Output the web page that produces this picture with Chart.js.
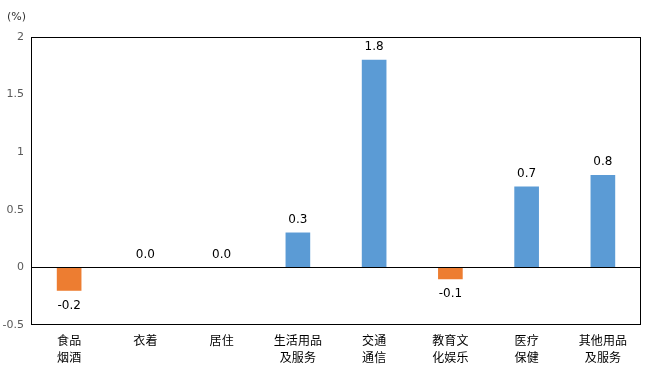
<!DOCTYPE html>
<html>
<head>
<meta charset="utf-8">
<script src="https://cdn.jsdelivr.net/npm/chart.js@4"></script>
<style>
  html, body { margin: 0; padding: 0; background: #fff; }
  #wrap { width: 653px; height: 371px; }
</style>
</head>
<body>
<div id="wrap"><canvas id="chart" width="653" height="371"></canvas></div>
<script>
const categories = [
    ['食品', '烟酒'], ['衣着'], ['居住'], ['生活用品', '及服务'],
    ['交通', '通信'], ['教育文', '化娱乐'], ['医疗', '保健'], ['其他用品', '及服务']
];
const values = [-0.2, 0.0, 0.0, 0.3, 1.8, -0.1, 0.7, 0.8];
const yTicks = [-0.5, 0, 0.5, 1, 1.5, 2];
const unitLabel = '(%)';

const BLUE = '#5B9BD5';
const ORANGE = '#ED7D31';

// frame, zero line, value labels and unit
const extras = {
    id: 'extras',
    afterDatasetsDraw(chart) {
        const ctx = chart.ctx;
        const area = chart.chartArea;
        const y = chart.scales.y;
        ctx.save();
        ctx.strokeStyle = '#000';
        ctx.lineWidth = 1;
        ctx.strokeRect(Math.round(area.left) + 0.5, Math.round(area.top) + 0.5,
            Math.round(area.right - area.left) - 1, Math.round(area.bottom - area.top) - 1);
        const zy = Math.round(y.getPixelForValue(0)) + 0.5;
        ctx.beginPath();
        ctx.moveTo(area.left, zy);
        ctx.lineTo(area.right, zy);
        ctx.stroke();

        ctx.fillStyle = '#000';
        ctx.font = '12px "DejaVu Sans"';
        ctx.textAlign = 'center';
        const meta = chart.getDatasetMeta(0);
        meta.data.forEach((bar, i) => {
            const v = values[i];
            if (v < 0) {
                ctx.textBaseline = 'top';
                ctx.fillText(v.toFixed(1), bar.x, bar.y + 9);
            } else {
                ctx.textBaseline = 'bottom';
                ctx.fillText(v.toFixed(1), bar.x, bar.y - 7);
            }
        });

        ctx.fillStyle = '#333';
        ctx.font = '11px "DejaVu Sans"';
        ctx.textAlign = 'left';
        ctx.textBaseline = 'middle';
        ctx.fillText(unitLabel, 7, 17);
        ctx.restore();
    }
};

new Chart(document.querySelector('#chart').getContext('2d'), {
    type: 'bar',
    data: {
        labels: categories,
        datasets: [{
            data: values,
            backgroundColor: values.map(v => v < 0 ? ORANGE : BLUE),
            barThickness: 24
        }]
    },
    options: {
        responsive: false,
        animation: false,
        layout: { padding: { top: 37, right: 12, left: 0, bottom: 0 } },
        plugins: { legend: { display: false }, tooltip: { enabled: false } },
        scales: {
            x: {
                grid: { display: false, drawTicks: false },
                border: { display: false },
                ticks: {
                    color: '#000',
                    padding: 7,
                    maxRotation: 0,
                    autoSkip: false,
                    font: { family: '"Noto Sans CJK SC"', size: 12, lineHeight: 1.4 }
                },
                afterFit: s => { s.height = 46; }
            },
            y: {
                min: -0.5,
                max: 2,
                grid: { display: false, drawTicks: false },
                border: { display: false },
                afterBuildTicks: s => { s.ticks = yTicks.map(v => ({ value: v })); },
                ticks: {
                    color: '#595959',
                    padding: 7,
                    font: { family: '"DejaVu Sans"', size: 11 },
                    callback: v => String(v)
                },
                afterFit: s => { s.width = 31; }
            }
        }
    },
    plugins: [extras]
});
</script>
</body>
</html>
